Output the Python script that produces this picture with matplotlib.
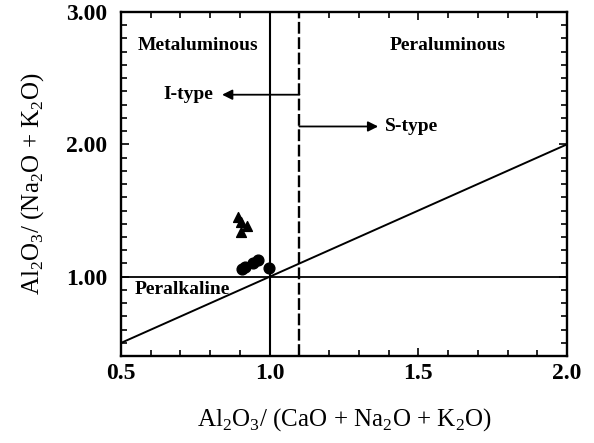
import matplotlib.pyplot as plt
from matplotlib.ticker import MultipleLocator

plt.rcParams['font.family'] = ['Liberation Serif', 'DejaVu Serif']
plt.rcParams['mathtext.fontset'] = 'custom'
plt.rcParams['mathtext.rm'] = 'Liberation Serif'

# A/CNK vs A/NK of the granite samples
tri_acnk = [0.895, 0.902, 0.923, 0.905]
tri_ank = [1.455, 1.41, 1.385, 1.34]
circ_acnk = [0.907, 0.918, 0.945, 0.962, 0.999]
circ_ank = [1.055, 1.075, 1.105, 1.125, 1.065]

# field boundaries
acnk_boundary = 1.0
s_i_boundary = 1.1
ank_boundary = 1.0
diag_x = [0.5, 2.0]

fig = plt.figure(figsize=(5.94, 4.43), dpi=100)
ax = fig.add_axes([0.2037, 0.196, 0.7508, 0.777])

ax.plot(diag_x, diag_x, color='black', lw=1.4)
ax.axvline(acnk_boundary, color='black', lw=1.5)
ax.axvline(s_i_boundary, color='black', lw=1.7, ls=(0, (5, 1.5)))
ax.axhline(ank_boundary, color='black', lw=1.3)

ax.scatter(tri_acnk, tri_ank, marker='^', s=50, color='black', zorder=3)
ax.scatter(circ_acnk, circ_ank, marker='o', s=60, color='black', zorder=3)

# I-type / S-type arrows from the dashed line
ax.annotate('', xy=(0.84, 2.375), xytext=(1.1, 2.375),
            arrowprops=dict(arrowstyle='-|>', color='black', lw=1.3,
                            mutation_scale=15, shrinkA=0, shrinkB=0))
ax.annotate('', xy=(1.365, 2.135), xytext=(1.1, 2.135),
            arrowprops=dict(arrowstyle='-|>', color='black', lw=1.3,
                            mutation_scale=15, shrinkA=0, shrinkB=0))

lab_kw = dict(fontsize=14, fontweight='bold', va='center')
ax.text(0.81, 2.375, 'I-type', ha='right', **lab_kw)
ax.text(1.388, 2.135, 'S-type', ha='left', **lab_kw)
ax.text(0.759, 2.75, 'Metaluminous', ha='center', **lab_kw)
ax.text(1.60, 2.75, 'Peraluminous', ha='center', **lab_kw)
ax.text(0.547, 0.90, 'Peralkaline', ha='left', **lab_kw)

ax.set_xlim(0.5, 2.0)
ax.set_ylim(0.4, 3.0)
ax.set_xticks([0.5, 1.0, 1.5, 2.0])
ax.set_xticklabels(['0.5', '1.0', '1.5', '2.0'])
ax.set_yticks([1.0, 2.0, 3.0])
ax.set_yticklabels(['1.00', '2.00', '3.00'])
ax.xaxis.set_minor_locator(MultipleLocator(0.1))
ax.yaxis.set_minor_locator(MultipleLocator(0.1))
ax.tick_params(which='both', direction='in', top=True, right=True,
               width=1.2, labelsize=17)
ax.tick_params(which='major', length=6)
ax.tick_params(which='minor', length=4)
ax.tick_params(axis='x', which='major', pad=5)
ax.tick_params(axis='y', which='major', pad=10)
for lab in ax.get_xticklabels() + ax.get_yticklabels():
    lab.set_fontweight('bold')
for sp in ax.spines.values():
    sp.set_linewidth(1.7)

ax.set_xlabel(r'Al$_2$O$_3$/ (CaO + Na$_2$O + K$_2$O)', fontsize=18, labelpad=16)
ax.set_ylabel(r'Al$_2$O$_3$/ (Na$_2$O + K$_2$O)', fontsize=18, labelpad=14)

fig.savefig('out.png', dpi=100)
